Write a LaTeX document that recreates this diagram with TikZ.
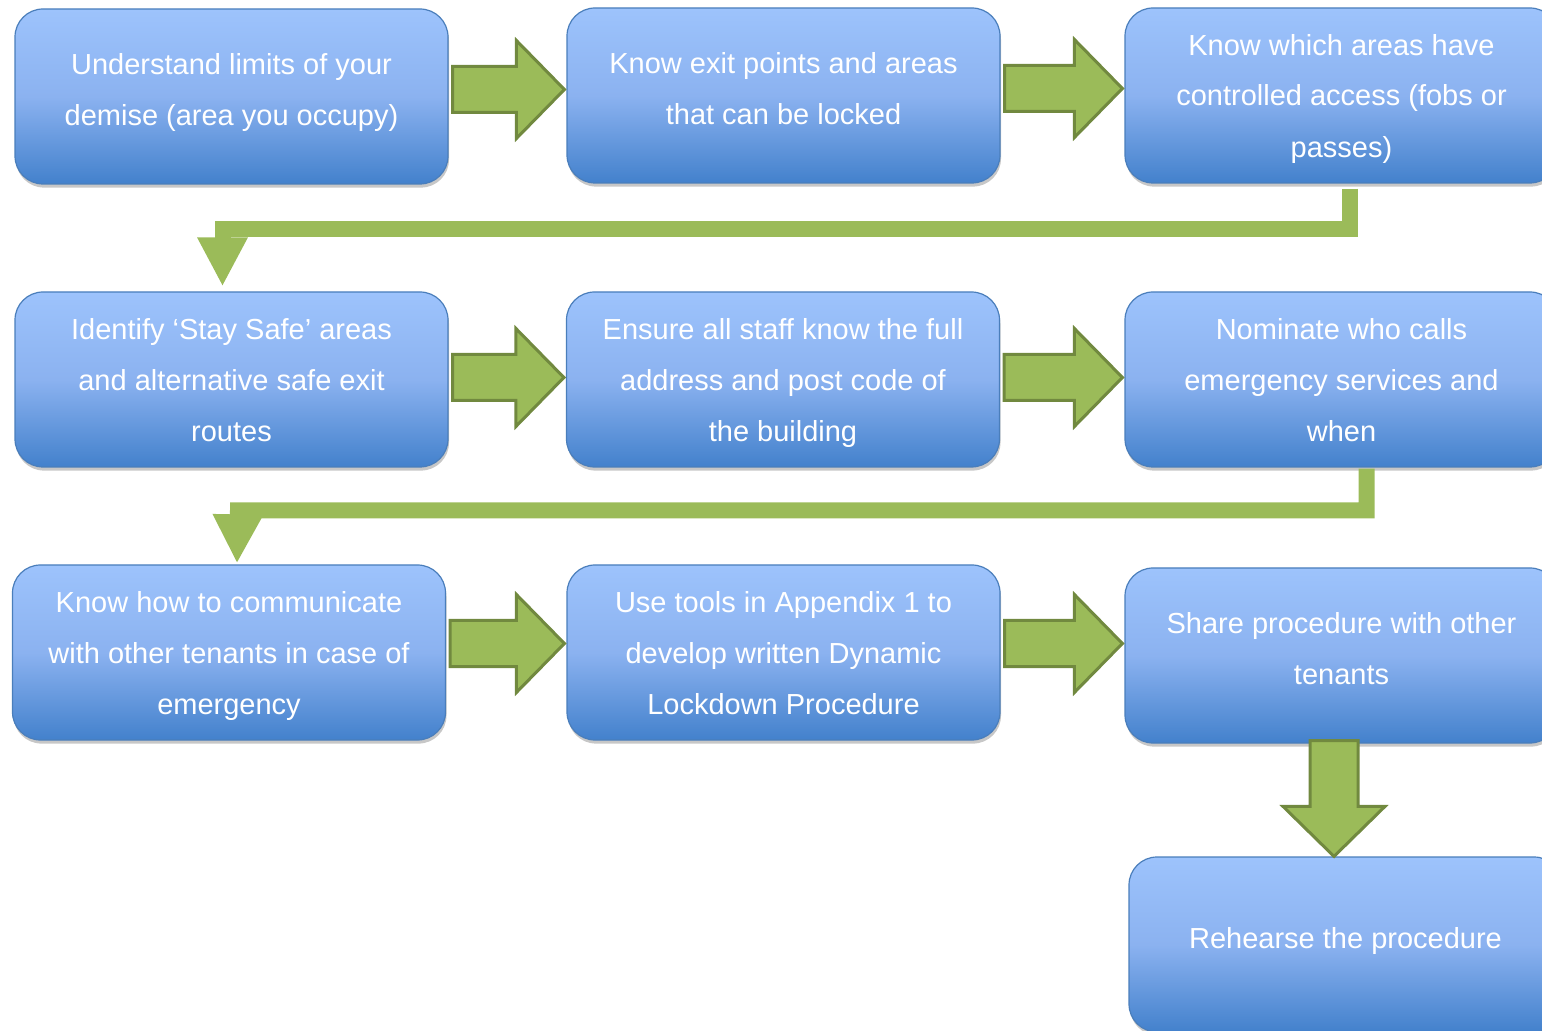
\documentclass[tikz,border=0pt]{standalone}
\usepackage{fontspec}
\setmainfont{Liberation Sans}
\usetikzlibrary{arrows.meta, calc, shadows}
\definecolor{boxtop}{HTML}{9DC3FC}
\definecolor{boxmid}{HTML}{8BB2F0}
\definecolor{boxbot}{HTML}{4381CC}
\definecolor{boxline}{HTML}{4A7EBB}
\definecolor{leaf}{HTML}{9BBB59}
\definecolor{leafdark}{HTML}{71893F}
\newcommand{\rightblock}[3]{%
  \path (#1.east -| #2.west) coordinate (tip);
  \draw[blockarrow] ($(#1.east)+(4,#3-23)$) -- ($(tip)+(-50,#3-23)$)
    -- ($(tip)+(-50,#3-49)$) -- ($(tip)+(-2,#3)$)
    -- ($(tip)+(-50,#3+49)$) -- ($(tip)+(-50,#3+23)$)
    -- ($(#1.east)+(4,#3+23)$) -- cycle;}

\begin{document}
\begin{tikzpicture}[x=0.5pt, y=-0.5pt,
  stepbox/.style={draw=boxline, line width=0.6pt, rounded corners=14pt,
    top color=boxtop, bottom color=boxbot, middle color=boxmid,
    minimum width=216.5pt, minimum height=87.5pt, align=center,
    text=white, font=\fontsize{14.5}{25.5}\selectfont,
    drop shadow={shadow xshift=0.5pt, shadow yshift=-1.8pt,
      fill=black, opacity=0.22}},
  blockarrow/.style={draw=leafdark, fill=leaf, line width=1.5pt,
    line join=miter},
  elbow/.style={draw=leaf, line width=8pt, line join=miter,
    -{Triangle[length=24.5pt, width=23.5pt]}}]
  \useasboundingbox (0,0) rectangle (1542,1031);
  \clip (0,0) rectangle (1542,1031);
  \foreach \nm/\x/\y/\td/\txt in {
      a1/231.5/96.5/7/{Understand limits of your\\demise (area you occupy)},
      b1/783.5/95.5/7/{Know exit points and areas\\that can be locked},
      c1/1341.5/95.5/0/{Know which areas have\\controlled access (fobs or\\passes)},
      a2/231.5/379.5/0/{Identify ‘Stay Safe’ areas\\and alternative safe exit\\routes},
      b2/783/379.5/0/{Ensure all staff know the full\\address and post code of\\the building},
      c2/1341.5/379.5/0/{Nominate who calls\\emergency services and\\when},
      a3/229/652.5/0/{Know how to communicate\\with other tenants in case of\\emergency},
      b3/783.5/652.5/0/{Use tools in Appendix 1 to\\develop written Dynamic\\Lockdown Procedure},
      c3/1341.5/655.5/7/{Share procedure with other\\tenants},
      d/1345.5/944.5/7/{Rehearse the procedure}}{%
    \node[stepbox, text depth=\td pt] (\nm) at (\x,\y) {\txt};}
  % block arrows along each row
  \rightblock{a1}{b1}{-7}
  \rightblock{b1}{c1}{-7}
  \rightblock{a2}{b2}{-2}
  \rightblock{b2}{c2}{-2}
  \rightblock{a3}{b3}{-9}
  \rightblock{b3}{c3}{-9}
  % down to the last step
  \coordinate (dtip) at ($(d.north)+(-11.5,0)$);
  \coordinate (dtop) at (c3.south -| dtip);
  \draw[blockarrow] ($(dtop)+(-24,-3)$) -- ($(dtip)+(-24,-50)$)
    -- ($(dtip)+(-51,-50)$) -- (dtip) -- ($(dtip)+(51,-50)$)
    -- ($(dtip)+(24,-50)$) -- ($(dtop)+(24,-3)$) -- cycle;
  % row returns
  \draw[elbow] ($(c1.south)+(8.5,5)$) |- ($(a2.north)+(-9,-62)$)
    -- ($(a2.north)+(-9,-5)$);
  \draw[elbow] ($(c2.south)+(25,1)$) |- ($(a3.north)+(9,-54)$)
    -- ($(a3.north)+(8,-1)$);
\end{tikzpicture}
\end{document}
